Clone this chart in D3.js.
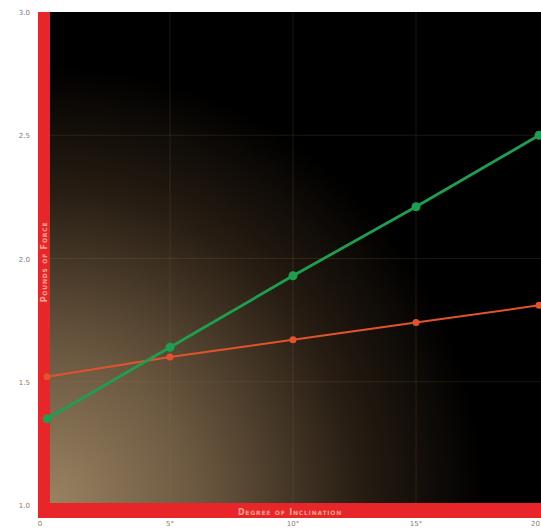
<!DOCTYPE html>
<html lang="en">
<head>
<meta charset="UTF-8">
<title>Pounds of Force vs Degree of Inclination</title>
<script src="https://d3js.org/d3.v7.min.js"></script>
<style>
  body { margin: 0; background: #fff; }
  svg { display: block; font-family: "DejaVu Sans", sans-serif; }
</style>
</head>
<body>
<div id="chart"></div>
<script>
// data
const angles = [0, 5, 10, 15, 20];
const xTickLabels = ["0", "5°", "10°", "15°", "20"];
const yTicks = [1.0, 1.5, 2.0, 2.5, 3.0];
const yTickLabels = ["1.0", "1.5", "2.0", "2.5", "3.0"];
const greenSeries = [1.35, 1.64, 1.93, 2.21, 2.50];
const orangeSeries = [1.52, 1.60, 1.67, 1.74, 1.81];

const W = 541, H = 528;
const mLeft = 47, mRight = 539, mTop = 12, mBottom = 505;

const svg = d3.select("#chart").append("svg")
  .attr("width", W).attr("height", H);

const x = d3.scaleLinear().domain([0, 20]).range([mLeft, mRight]);
const y = d3.scaleLinear().domain([1, 3]).range([mBottom, mTop]);

// background glow from bottom-left
const defs = svg.append("defs");
const grad = defs.append("radialGradient")
  .attr("id", "glow")
  .attr("gradientUnits", "userSpaceOnUse")
  .attr("cx", 45).attr("cy", 505).attr("r", 440);
grad.append("stop").attr("offset", 0).attr("stop-color", "#9b8463");
grad.append("stop").attr("offset", 0.35).attr("stop-color", "#6b5840");
grad.append("stop").attr("offset", 0.72).attr("stop-color", "#261c12");
grad.append("stop").attr("offset", 1).attr("stop-color", "#000");

svg.append("rect")
  .attr("x", 50).attr("y", mTop)
  .attr("width", W - 50).attr("height", mBottom - mTop - 2)
  .attr("fill", "url(#glow)");

// grid (faint)
svg.append("g")
  .selectAll("line")
  .data(angles.slice(1, 4))
  .join("line")
  .attr("x1", d => x(d)).attr("x2", d => x(d))
  .attr("y1", mTop).attr("y2", mBottom)
  .attr("stroke", "#a07a4a").attr("stroke-opacity", 0.18).attr("stroke-width", 1);

svg.append("g")
  .selectAll("line")
  .data(yTicks.slice(1, 4))
  .join("line")
  .attr("x1", 50).attr("x2", W)
  .attr("y1", d => y(d)).attr("y2", d => y(d))
  .attr("stroke", "#a07a4a").attr("stroke-opacity", 0.18).attr("stroke-width", 1);

// red frame
svg.append("rect")
  .attr("x", 38).attr("y", mTop).attr("width", 12).attr("height", 518 - mTop)
  .attr("fill", "#e8262a");
svg.append("rect")
  .attr("x", 38).attr("y", 503).attr("width", W - 38).attr("height", 15)
  .attr("fill", "#e8262a");

// axis titles
svg.append("text")
  .attr("x", 290).attr("y", 514.5)
  .attr("text-anchor", "middle")
  .attr("fill", "#f6a58a")
  .style("font-size", "8px").style("font-weight", "bold")
  .style("font-variant", "small-caps").style("letter-spacing", "0.8px")
  .text("Degree of Inclination");

svg.append("text")
  .attr("transform", "translate(47,262) rotate(-90)")
  .attr("text-anchor", "middle")
  .attr("fill", "#f6a58a")
  .style("font-size", "8px").style("font-weight", "bold")
  .style("font-variant", "small-caps").style("letter-spacing", "0.8px")
  .text("Pounds of Force");

// tick labels
svg.append("g")
  .selectAll("text")
  .data(yTicks)
  .join("text")
  .attr("x", 30).attr("y", d => y(d) + 3)
  .attr("text-anchor", "end")
  .attr("fill", "#7d7d7d")
  .style("font-size", "7px")
  .text((d, i) => yTickLabels[i]);

svg.append("g")
  .selectAll("text")
  .data(angles)
  .join("text")
  .attr("x", (d, i) => i === 0 ? 40 : (i === angles.length - 1 ? W - 1 : x(d)))
  .attr("y", 526)
  .attr("text-anchor", (d, i) => i === angles.length - 1 ? "end" : "middle")
  .attr("fill", "#7d7d7d")
  .style("font-size", "7px")
  .text((d, i) => xTickLabels[i]);

// series
const line = d3.line()
  .x((d, i) => x(angles[i]))
  .y(d => y(d));

function drawSeries(vals, color, width, r) {
  svg.append("path")
    .datum(vals)
    .attr("d", line)
    .attr("fill", "none")
    .attr("stroke", color)
    .attr("stroke-width", width);
  svg.append("g")
    .selectAll("circle")
    .data(vals)
    .join("circle")
    .attr("cx", (d, i) => x(angles[i]))
    .attr("cy", d => y(d))
    .attr("r", r)
    .attr("fill", color);
}

drawSeries(orangeSeries, "#e2532c", 2, 3.5);
drawSeries(greenSeries, "#1e9e50", 2.8, 4.5);
</script>
</body>
</html>
